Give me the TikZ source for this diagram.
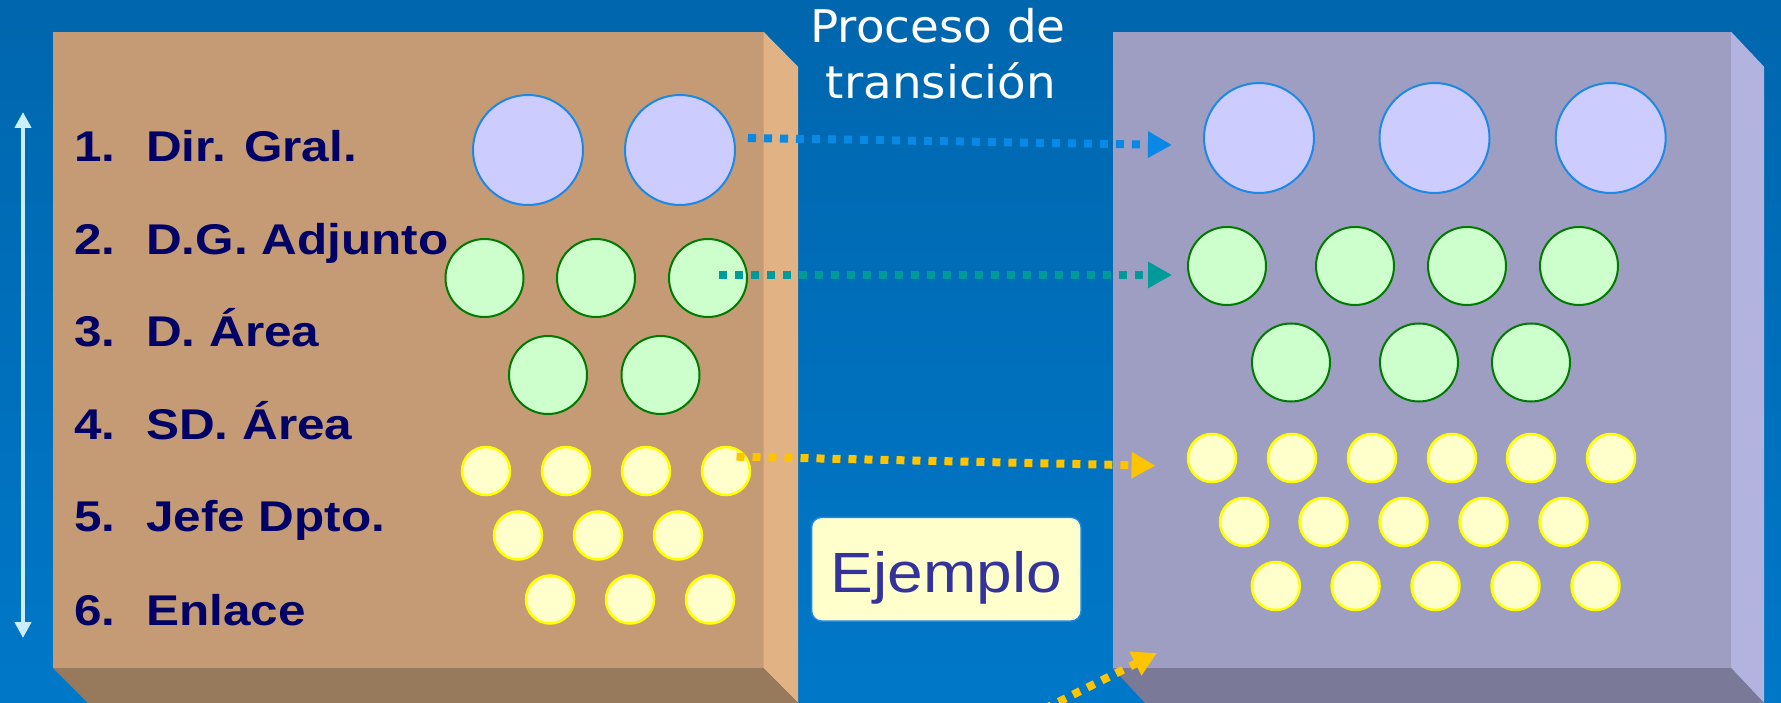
\documentclass[tikz,border=0pt]{standalone}
\usepackage{fontspec}
\newfontfamily\lblfont[FakeStretch=1.15]{Liberation Sans}
\newfontfamily\procfont[FakeStretch=1.04]{DejaVu Sans}
\newfontfamily\ejfont[FakeStretch=1.13]{Liberation Sans}
\usetikzlibrary{arrows.meta}
\definecolor{bgtop}{HTML}{0066AE}
\definecolor{bgbot}{HTML}{0078C8}
\definecolor{lfront}{HTML}{C49B74}
\definecolor{lside}{HTML}{E0B284}
\definecolor{lbottom}{HTML}{967A5B}
\definecolor{rfront}{HTML}{9E9EC3}
\definecolor{rside}{HTML}{B3B3E0}
\definecolor{rbottom}{HTML}{7A7A98}
\definecolor{bluefill}{HTML}{CCCCFF}
\definecolor{blueline}{HTML}{1E88E5}
\definecolor{greenfill}{HTML}{CCFFCC}
\definecolor{greenline}{HTML}{007A00}
\definecolor{yelfill}{HTML}{FFFFCC}
\definecolor{yelline}{HTML}{FFFF00}
\definecolor{navy}{HTML}{000066}
\definecolor{arrblue}{HTML}{0A88E6}
\definecolor{arrteal}{HTML}{009A9A}
\definecolor{arryel}{HTML}{FFC400}
\definecolor{ejtext}{HTML}{333399}
\definecolor{vert}{HTML}{CCEEFF}
\tikzset{
  x=1pt, y=-1pt,
  bigc/.style={circle, inner sep=0pt, minimum size=110pt, fill=bluefill, draw=blueline, line width=2pt},
  midc/.style={circle, inner sep=0pt, minimum size=78pt, fill=greenfill, draw=greenline, line width=2pt},
  smallc/.style={circle, inner sep=0pt, minimum size=48pt, fill=yelfill, draw=yelline, line width=2.5pt},
  lbl/.style={anchor=base west, inner sep=0pt, text=navy, font=\lblfont\bfseries\fontsize{43}{50}\selectfont},
  proc/.style={anchor=base, inner sep=0pt, text=white, font=\procfont\fontsize{45}{54}\selectfont},
  dotarrow/.style={line width=8pt, dash pattern=on 8pt off 8pt, line cap=butt, -{Triangle[length=24pt,width=25pt]}},
}
\begin{document}
\begin{tikzpicture}
\useasboundingbox (0,0) rectangle (1781,703);
\clip (0,0) rectangle (1781,703);
\shade[top color=bgtop, bottom color=bgbot] (0,0) rectangle (1781,703);

% left block
\fill[lfront] (53,31.7) rectangle (763.5,668);
\fill[lside] (763.5,31.7) -- (798,66.7) -- (798,703) -- (763.5,668) -- cycle;
\fill[lbottom] (53,668) -- (763.5,668) -- (798,703) -- (88,703) -- cycle;
% right block
\fill[rfront] (1112.5,31.7) rectangle (1731,668);
\fill[rside] (1731,31.7) -- (1764,66.7) -- (1764,703) -- (1731,668) -- cycle;
\fill[rbottom] (1112.5,668) -- (1731,668) -- (1764,703) -- (1145,703) -- cycle;

% vertical double arrow
\coordinate (vtop) at (23,112);
\coordinate (vbot) at (23,638);
\draw[vert, line width=4pt, {Triangle[length=16pt,width=16pt]}-{Triangle[length=16pt,width=16pt]}] (vtop) -- (vbot);

% labels
\node[lbl] (n1) at (74,162) {1.};
\node[lbl] (t1) at (146,162) {Dir. Gral.};
\node[lbl] (n2) at (74,255) {2.};
\node[lbl] (t2) at (146,255) {D.G. Adjunto};
\node[lbl] (n3) at (74,346.7) {3.};
\node[lbl] (t3) at (146,346.7) {D. Área};
\node[lbl] (n4) at (74,439) {4.};
\node[lbl] (t4) at (146,439) {SD. Área};
\node[lbl] (n5) at (74,531.7) {5.};
\node[lbl] (t5) at (146,531.7) {Jefe Dpto.};
\node[lbl] (n6) at (74,625) {6.};
\node[lbl] (t6) at (146,625) {Enlace};

% left circles
\node[bigc] (la1) at (528,150) {};
\node[bigc] (la2) at (680,150) {};
\node[midc] (lb1) at (484.5,278) {};
\node[midc] (lb2) at (596,278) {};
\node[midc] (lb3) at (708,278) {};
\node[midc] (lc1) at (548,375) {};
\node[midc] (lc2) at (660.5,375) {};
\node[smallc] (ld1) at (486,471) {};
\node[smallc] (ld2) at (566,471) {};
\node[smallc] (ld3) at (646,471) {};
\node[smallc] (ld4) at (726,471) {};
\node[smallc] (le1) at (518,535.5) {};
\node[smallc] (le2) at (598,535.5) {};
\node[smallc] (le3) at (678,535.5) {};
\node[smallc] (lf1) at (550,599.5) {};
\node[smallc] (lf2) at (630,599.5) {};
\node[smallc] (lf3) at (710,599.5) {};

% right circles
\node[bigc] (ra1) at (1259,138) {};
\node[bigc] (ra2) at (1434.5,138) {};
\node[bigc] (ra3) at (1610.7,138) {};
\node[midc] (rb1) at (1227,266) {};
\node[midc] (rb2) at (1355,266) {};
\node[midc] (rb3) at (1467,266) {};
\node[midc] (rb4) at (1579,266) {};
\node[midc] (rc1) at (1291,362.5) {};
\node[midc] (rc2) at (1419,362.5) {};
\node[midc] (rc3) at (1531,362.5) {};
\node[smallc] (rd1) at (1212,458) {};
\node[smallc] (rd2) at (1292,458) {};
\node[smallc] (rd3) at (1372,458) {};
\node[smallc] (rd4) at (1452,458) {};
\node[smallc] (rd5) at (1531,458) {};
\node[smallc] (rd6) at (1611,458) {};
\node[smallc] (re1) at (1244,522) {};
\node[smallc] (re2) at (1323.5,522) {};
\node[smallc] (re3) at (1403.5,522) {};
\node[smallc] (re4) at (1483.5,522) {};
\node[smallc] (re5) at (1563.5,522) {};
\node[smallc] (rf1) at (1275.8,586) {};
\node[smallc] (rf2) at (1355.6,586) {};
\node[smallc] (rf3) at (1435.5,586) {};
\node[smallc] (rf4) at (1515.5,586) {};
\node[smallc] (rf5) at (1595.5,586) {};

% title
\node[proc] (p1) at (938,42.7) {Proceso de};
\node[proc] (p2) at (941,99) {transición};

% Ejemplo box
\node[draw=blueline, line width=1.5pt, fill=yelfill, rounded corners=10pt,
      minimum width=269.5pt, minimum height=103.7pt, inner sep=0pt,
      text height=46pt, text depth=0pt, text=ejtext,
      font=\ejfont\fontsize{56.7}{60}\selectfont] (ej) at (946.3,569.2) {Ejemplo};

% arrows
\coordinate (s1) at (748,138);
\coordinate (e1) at (1172,145);
\coordinate (s2) at (719,275);
\coordinate (e2) at (1172,275);
\coordinate (s3) at (736.5,456.7);
\coordinate (e3) at (1155.5,465.7);
\coordinate (s4) at (1030,716);
\coordinate (e4) at (1157,653);
\draw[dotarrow, arrblue] (s1) -- (e1);
\draw[dotarrow, arrteal] (s2) -- (e2);
\draw[dotarrow, arryel] (s3) -- (e3);
\draw[dotarrow, arryel] (s4) -- (e4);
\end{tikzpicture}
\end{document}
